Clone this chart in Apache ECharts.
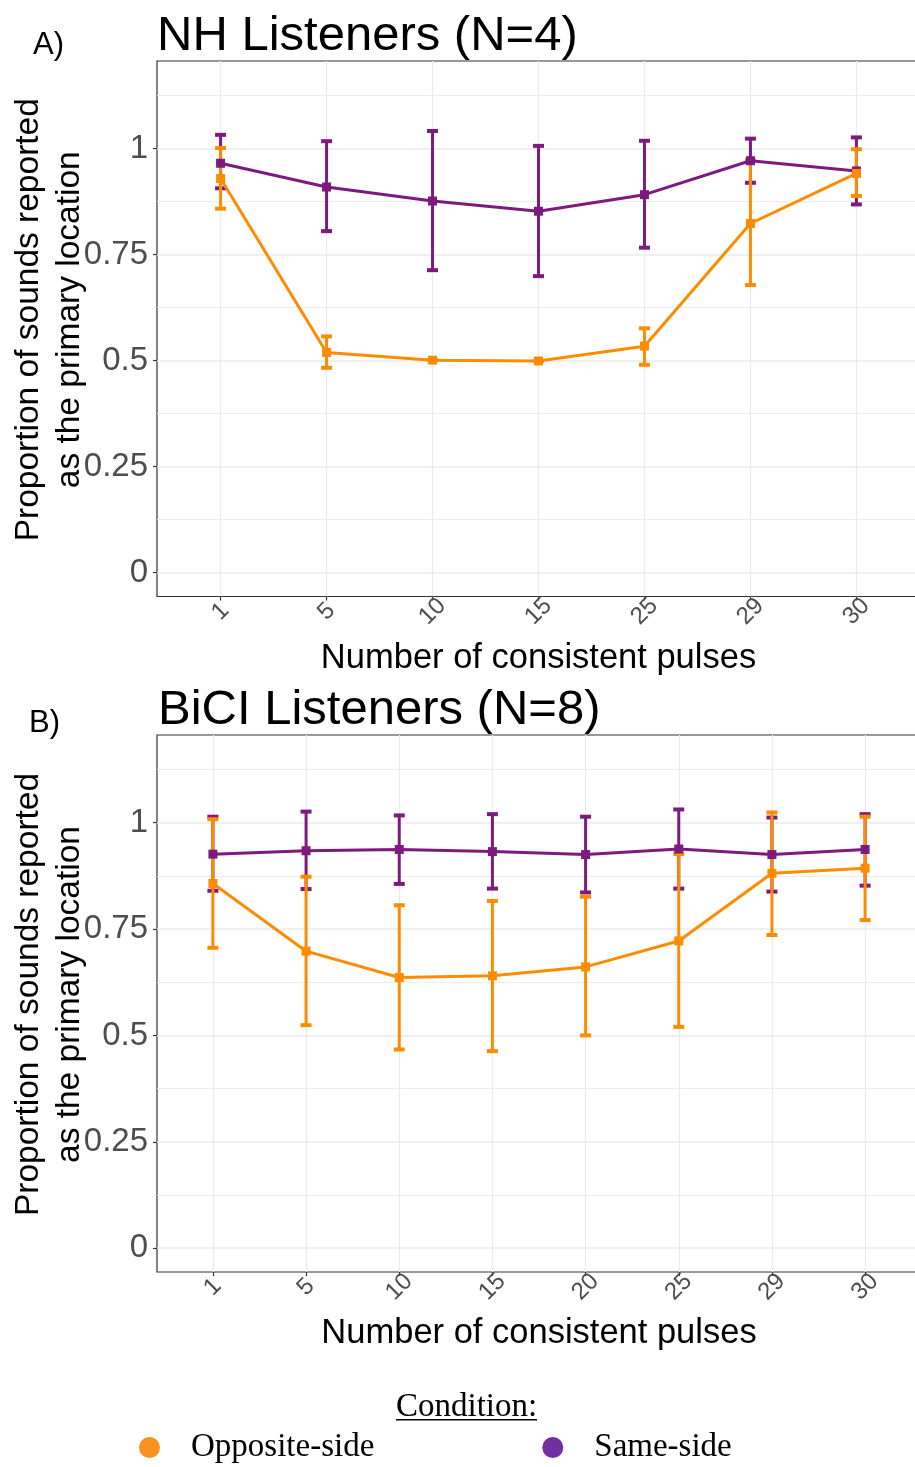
<!DOCTYPE html>
<html>
<head>
<meta charset="utf-8">
<script src="https://cdn.jsdelivr.net/npm/echarts@6/dist/echarts.min.js"></script>
<style>
  html, body { margin: 0; padding: 0; background: #fff; }
  #chart { width: 915px; height: 1467px; }
</style>
</head>
<body>
<div id="chart"></div>
<script>
// ---- Panel A: NH listeners ----
const catsA = ['1', '5', '10', '15', '25', '29', '30'];
const oppMeanA  = [0.929, 0.519, 0.501, 0.499, 0.534, 0.823, 0.941];
const oppLowA   = [0.858, 0.483, 0.501, 0.499, 0.490, 0.678, 0.888];
const oppHighA  = [1.001, 0.557, 0.501, 0.499, 0.576, 0.972, 0.998];
const sameMeanA = [0.965, 0.909, 0.876, 0.852, 0.891, 0.971, 0.947];
const sameLowA  = [0.906, 0.805, 0.713, 0.699, 0.766, 0.919, 0.868];
const sameHighA = [1.032, 1.017, 1.041, 1.006, 1.018, 1.023, 1.026];

// ---- Panel B: BiCI listeners ----
const catsB = ['1', '5', '10', '15', '20', '25', '29', '30'];
const oppMeanB  = [0.857, 0.698, 0.636, 0.640, 0.661, 0.722, 0.881, 0.893];
const oppLowB   = [0.706, 0.524, 0.467, 0.463, 0.500, 0.520, 0.736, 0.771];
const oppHighB  = [1.008, 0.873, 0.806, 0.816, 0.826, 0.926, 1.024, 1.014];
const sameMeanB = [0.926, 0.934, 0.937, 0.932, 0.925, 0.938, 0.925, 0.937];
const sameLowB  = [0.840, 0.844, 0.856, 0.845, 0.836, 0.845, 0.838, 0.852];
const sameHighB = [1.014, 1.026, 1.017, 1.020, 1.014, 1.031, 1.012, 1.020];

// ---- Axis ticks ----
const yTicks = [0, 0.25, 0.5, 0.75, 1];
const yMinorTicks = [0.125, 0.375, 0.625, 0.875, 1.125];
const Y_MIN = -0.056, Y_MAX = 1.206;

const ORANGE = '#FF8C00';
const PURPLE = '#7E1A7E';
const SANS = '"Liberation Sans", Arial, sans-serif';
const SERIF = '"Liberation Serif", "Times New Roman", serif';

const panels = [
  { cats: catsA, top: 61,  height: 535.5, right: -5,
    opp:  { mean: oppMeanA,  low: oppLowA,  high: oppHighA },
    same: { mean: sameMeanA, low: sameLowA, high: sameHighA } },
  { cats: catsB, top: 735, height: 537,   right: -6,
    opp:  { mean: oppMeanB,  low: oppLowB,  high: oppHighB },
    same: { mean: sameMeanB, low: sameLowB, high: sameHighB } }
];

const grids = [], xAxes = [], yAxes = [], series = [];

function errorBarSeries(name, color, pIdx, g) {
  return {
    name: name,
    type: 'custom',
    xAxisIndex: pIdx,
    yAxisIndex: pIdx * 2,
    z: 2,
    encode: { x: 0, y: [1, 2] },
    data: g.low.map((lo, k) => [k, lo, g.high[k]]),
    renderItem: function (params, api) {
      const x = api.value(0);
      const pLo = api.coord([x, api.value(1)]);
      const pHi = api.coord([x, api.value(2)]);
      const hw = 5.5;
      const bar = { stroke: color, lineWidth: 3 };
      const cap = { stroke: color, lineWidth: 4 };
      return {
        type: 'group',
        children: [
          { type: 'line', shape: { x1: pLo[0], y1: pLo[1], x2: pHi[0], y2: pHi[1] }, style: bar },
          { type: 'line', shape: { x1: pHi[0] - hw, y1: pHi[1], x2: pHi[0] + hw, y2: pHi[1] }, style: cap },
          { type: 'line', shape: { x1: pLo[0] - hw, y1: pLo[1], x2: pLo[0] + hw, y2: pLo[1] }, style: cap }
        ]
      };
    }
  };
}

function lineSeries(name, color, pIdx, g) {
  return {
    name: name,
    type: 'line',
    xAxisIndex: pIdx,
    yAxisIndex: pIdx * 2,
    z: 3,
    data: g.mean.map((m, k) => [k, m]),
    symbol: 'rect',
    symbolSize: 9,
    itemStyle: { color: color },
    lineStyle: { color: color, width: 3 },
    emphasis: { disabled: true },
    animation: false
  };
}

panels.forEach((p, i) => {
  const idx = p.cats.map((c, k) => k);
  grids.push({
    left: 157, top: p.top, height: p.height, right: p.right,
    show: true, borderColor: '#333', borderWidth: 1.2, backgroundColor: '#fff',
    containLabel: false, outerBoundsMode: 'none'
  });
  xAxes.push({
    type: 'value', gridIndex: i,
    min: -0.6, max: p.cats.length - 0.4,
    axisLine: { show: false, onZero: false },
    axisTick: { show: true, length: 4, lineStyle: { color: '#333', width: 1.2 }, customValues: idx },
    axisLabel: {
      customValues: idx,
      formatter: v => p.cats[Math.round(v)],
      rotate: 45, align: 'center', verticalAlign: 'middle', margin: 15,
      fontSize: 24, color: '#4D4D4D', fontFamily: SANS
    },
    splitLine: { show: true, lineStyle: { color: '#EBEBEB', width: 1.2 } },
    name: 'Number of consistent pulses', nameLocation: 'middle', nameGap: 44,
    nameTextStyle: { fontSize: 34.5, color: '#000', fontFamily: SANS }
  });
  yAxes.push({
    type: 'value', gridIndex: i, min: Y_MIN, max: Y_MAX,
    axisLine: { show: false, onZero: false },
    axisTick: { show: true, length: 4, lineStyle: { color: '#333', width: 1.2 }, customValues: yTicks },
    axisLabel: {
      customValues: yTicks, formatter: v => String(v), margin: 9,
      fontSize: 33, color: '#4D4D4D', fontFamily: SANS
    },
    splitLine: { show: true, lineStyle: { color: '#EBEBEB', width: 1.5 } },
    name: 'Proportion of sounds reported\nas the primary location',
    nameLocation: 'middle', nameGap: 67, nameMoveOverlap: false,
    nameTextStyle: { fontSize: 33.5, lineHeight: 41, color: '#000', fontFamily: SANS, align: 'center', padding: [0, 0, 0, 18] }
  });
  // minor horizontal grid lines
  yAxes.push({
    type: 'value', gridIndex: i, min: Y_MIN, max: Y_MAX, position: 'left',
    axisLine: { show: false, onZero: false },
    axisTick: { show: false, customValues: yMinorTicks },
    axisLabel: { show: false, customValues: yMinorTicks },
    splitLine: { show: true, lineStyle: { color: '#EDEDED', width: 1 } }
  });
  series.push(errorBarSeries('Same-side', PURPLE, i, p.same));
  series.push(errorBarSeries('Opposite-side', ORANGE, i, p.opp));
  series.push(lineSeries('Same-side', PURPLE, i, p.same));
  series.push(lineSeries('Opposite-side', ORANGE, i, p.opp));
});

const chart = echarts.init(document.getElementById('chart'), null, { renderer: 'canvas' });
chart.setOption({
  animation: false,
  backgroundColor: '#fff',
  grid: grids,
  xAxis: xAxes,
  yAxis: yAxes,
  series: series,
  legend: {
    data: [
      { name: 'Opposite-side', itemStyle: { color: '#F7931E' } },
      { name: 'Same-side', itemStyle: { color: '#7030A0' } }
    ],
    icon: 'circle', itemWidth: 21, itemHeight: 21, itemGap: 168,
    left: 139, top: 1431, padding: 0, selectedMode: false,
    textStyle: { fontFamily: SERIF, fontSize: 33, color: '#000', padding: [0, 0, 0, 26] }
  },
  graphic: [
    { type: 'text', x: 157, y: 36, style: { text: 'NH Listeners (N=4)', font: '49px ' + SANS, fill: '#000', align: 'left', verticalAlign: 'middle' } },
    { type: 'text', x: 33, y: 45.5, style: { text: 'A)', font: '31px ' + SANS, fill: '#000', align: 'left', verticalAlign: 'middle' } },
    { type: 'text', x: 158, y: 710.5, style: { text: 'BiCI Listeners (N=8)', font: '49px ' + SANS, fill: '#000', align: 'left', verticalAlign: 'middle' } },
    { type: 'text', x: 29, y: 723, style: { text: 'B)', font: '31px ' + SANS, fill: '#000', align: 'left', verticalAlign: 'middle' } },
    { type: 'text', x: 396, y: 1407, style: { text: 'Condition:', font: '33px ' + SERIF, fill: '#000', align: 'left', verticalAlign: 'middle' } },
    { type: 'rect', shape: { x: 396, y: 1419, width: 141, height: 1.5 }, style: { fill: '#000' } }
  ]
});
</script>
</body>
</html>
